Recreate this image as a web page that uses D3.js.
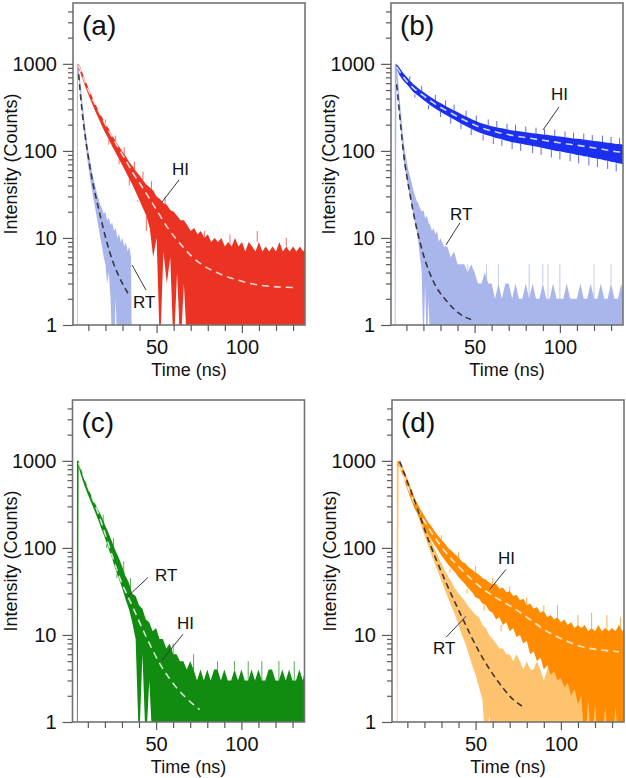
<!DOCTYPE html>
<html>
<head>
<meta charset="utf-8">
<script src="https://cdn.jsdelivr.net/npm/d3@7"></script>
<style>
  body { margin: 0; background: #fff; }
  svg { display: block; }
  text { font-family: "Liberation Sans", Arial, Helvetica, sans-serif; fill: #111; }
</style>
</head>
<body>
<svg id="chart" width="626" height="778"></svg>
<script>
// ---- data (time in ns, intensity in counts; 0 = no counts) ----

// (a) HI red
const aHiT = [4.2,5,6,8,10,12,14,16,18,20,22,24,26,28,30,32,34,36,38,40,42,44,46,48,50,52,54,56,58,60,62,64,66,68,70,72,74,76,78,80,82,84,86,88,90,92,94,96,98,100,102,104,106,108,110,112,114,116,118,120,122,124,126,128,130,132,134,136,137.5];
const aHiUp = [1000,960,840,660,530,430,350,290,245,205,178,150,130,112,98,86,74,66,58,52,46,41,38,35,30,28,25,24,21,20,18,16,16,14,12,13,11,12,10,11,9,10,9,10,8,9,8,10,8,9,7,9,8,7,9,7,8,7,8,7,9,7,8,7,8,7,8,7,8];
const aHiLo = [850,820,720,560,445,355,288,235,192,160,135,112,95,80,68,57,48,40,33,27,22,18,13,6,10,0,7,3,6,0,4,0,3,0,0];
const aHiSpikeT = [20,26,31,37,42,47,55,60,67,78,93,109,126];
const aHiSpikeV = [230,150,110,75,58,45,30,19,12,12,11,12,10];
const aHiDipT = [22,28,34,39,44];
const aHiDipV = [118,70,40,26,12];
// (a) RT light blue
const aRtT = [3.3,3.7,3.9,5,6,7,8,9,10,11,12,13,14,15,16,17,18,19,20,21,22,23,24,25,26,27,28,29,30,31,32,33,34,35,35.5];
const aRtUp = [1000,1000,1000,700,450,300,200,140,100,78,60,48,40,33,28,24,22,19,20,16,17,14,15,12,13,10,11,9,10,8,9,7,8,6,0];
const aRtLo = [0,0,800,520,330,210,135,92,65,48,36,28,22,17,13,10,8,6,5,3,4,2,0,0,2];
// (a) fits
const aFitHiT = [4.3,10,16.7,21,26.5,31,36.3,41,46,51,56,61,65.7,70,75.5,85.3,95,105,114.7,130];
const aFitHiV = [960,500,270,185,118,84,55,40,28,19.5,13.5,10,7.8,6.3,5.1,4.0,3.4,3.0,2.8,2.7];
const aFitRtT = [4.3,6,8.8,10.7,12.7,14.7,16.7,20.6,24,28,33.3];
const aFitRtV = [760,330,120,70,42,28,19,9.3,5.6,3.6,2.3];

// (b) HI blue
const bHiT = [4.2,6,8,10,12,14,16,18,20,22,24,26,28,30,32,34,36,38,40,42,44,46,48,50,52,54,56,58,60,62,64,66,68,70,72,74,76,78,80,82,84,86,88,90,92,94,96,98,100,102,104,106,108,110,112,114,116,118,120,122,124,126,128,130,132,134,136,137.5];
const bHiUp = [1000,900,790,715,645,585,545,505,475,445,420,395,372,354,337,320,305,292,279,266,254,243,233,224,215,208,202,197,192,188,185,182,178,175,172,170,168,166,164,162,160,158,156,154,153,151,149,147,146,144,143,141,139,138,137,135,133,132,130,129,127,126,124,123,121,120,119,118];
const bHiLo = [880,740,650,590,530,475,445,412,385,360,335,315,297,282,267,254,240,229,218,207,197,188,180,172,165,159,154,150,146,142,139,136,132,129,126,124,122,120,118,116,114,112,110,108,106,104,102,100,99,97,95,94,92,90,89,87,86,84,83,81,80,78,77,75,74,72,71,70];
const bHiSpikeT = [12,19,27,33,38,45,51,58,63,69,74,80,86,91,97,103,108,114,119,125,130,135];
const bHiSpikeV = [720,560,440,380,340,290,255,230,220,205,200,190,185,178,175,168,162,158,152,150,145,140];
const bHiDipT = [15,23,30,36,42,48,55,61,66,72,77,84,89,95,100,106,111,117,122,128,133];
const bHiDipV = [410,300,245,205,178,152,132,120,114,105,100,94,90,84,80,76,72,68,65,62,58];
// (b) RT light blue
const bRtT = [3.2,3.6,4.2,5,6,7,8,9,10,11,12,13,14,15,16,17,18,19,20,21,22,23,24,25,26,27,28,29,30,32,34,36,38,40,42,44,46,48,50,52,54,56,58,60,62,64,66,68,70,72,74,76,78,80,82,84,86,88,90,92,94,96,98,100,102,104,106,108,110,112,114,116,118,120,122,124,126,128,130,132,134,136,137.5];
const bRtUp = [1000,1000,1000,700,420,250,150,105,80,62,52,44,36,31,27,25,22,20,21,17,18,15,14,12,13,11,12,9,10,8,8,6,7,5,5,5,4,5,4,3,3,4,3,3,2,3,2,3,3,2,3,2,2,3,2,3,2,2,3,2,2,3,2,2,2,3,2,2,2,3,2,2,3,2,2,3,2,2,3,2,2,3,2];
const bRtLo = [0,0,700,450,260,160,95,65,50,38,31,24,19,15,12,9,6,4,0,3,0,2];
const bRtSpikeT = [33,41,46,57,64,82,90,93,100,120,130];
const bRtSpikeV = [7,5,5,5,5,5,5,5,5,5,5];
// (b) fits
const bFitHiT = [4.3,8,14,19,23.8,28.5,33.5,43.3,53,62.7,72.5,82,92,102,111.5,123,135,137.5];
const bFitHiV = [920,720,530,445,380,330,290,229,187,165,150,140,131,122,115,106,97,96];
const bFitRtT = [4.3,6,8.2,12.1,16,19.9,25.7,33.5,41.3,50.1];
const bFitRtV = [580,268,100,32,13,6.5,3.2,1.9,1.34,1.12];

// (c) green (RT and HI overlap)
const cT = [3.6,4,4.6,6,8,10,12,14,16,18,20,22,24,26,28,30,32,34,36,38,40,42,44,46,48,50,52,54,56,58,60,62,64,66,68,70,72,74,76,78,80,82,84,86,88,90,92,94,96,98,100,102,104,106,108,110,112,114,116,118,120,122,124,126,128,130,132,134,136,137.5];
const cUp = [1000,1000,1000,800,620,490,400,330,275,230,185,150,120,95,78,62,48,40,30,28,22,20,15,14,11,12,9,9,7,8,6,6,5,5,4,5,4,3,4,3,4,3,4,4,3,4,3,3,4,3,4,3,3,4,3,4,3,3,4,4,3,3,4,3,4,3,3,4,3,4];
const cLo = [0,0,850,680,520,410,330,265,210,165,130,100,78,58,45,35,26,20,14,9,0,6,0,3];
const cSpikeT = [19,25,31,35,60,72,86,96,104,112,122,131];
const cSpikeV = [240,130,70,45,8,6,5,5,5,5,5,5];
const cDipT = [21,27,33];
const cDipV = [110,50,20];
const cFitT = [4.5,10,16.7,22.5,28.4,36.3,44.1,52,59.8,67.6,75.5];
const cFitV = [950,500,230,104,47,21,9.6,4.75,2.8,1.89,1.39];

// (d) HI orange
const dHiT = [4.6,5.5,6,8,10,12,14,16,18,20,22,24,26,28,30,32,34,36,38,40,42,44,46,48,50,52,54,56,58,60,62,64,66,68,70,72,74,76,78,80,82,84,86,88,90,92,94,96,98,100,102,104,106,108,110,112,114,116,118,120,122,124,126,128,130,132,134,136,137.5];
const dHiUp = [1000,980,950,760,590,470,380,320,270,232,200,178,155,138,124,112,100,92,84,78,70,66,60,56,52,49,45,43,40,38,39,34,35,31,32,28,29,25,26,22,23,20,21,18,19,16,17,15,16,14,15,13,14,12,13,12,13,11,12,11,13,11,12,11,12,11,13,11,12];
const dHiLo = [900,850,800,620,470,370,290,245,200,170,145,124,108,94,82,72,64,58,52,46,42,38,34,31,27,26,23,22,19,18,15,16,13,14,11,12,9.5,10,8,8.5,6,6.5,5,5.5,4,4.5,3.5,3.8,3,3.2,2.5,2.8,2,2.4,1.6,2,0,1.8,0,1.6,0,0,1.5,0,0,1.5,0,0,0];
const dHiSpikeT = [30,40,50,60,70,80,90,98,110,118,127,135];
const dHiSpikeV = [140,90,62,45,36,27,22,22,17,18,17,16];
const dHiDipT = [35,45,55,65];
const dHiDipV = [52,30,19,11];
// (d) RT light orange
const dRtT = [3.8,4.2,4.9,6,8,10,12,14,16,18,20,22,24,26,28,30,32,34,36,38,40,42,44,46,48,50,52,54,56,58,60,62,64,66,68,70,72,74,76,78,80,82,84,86,88,90,92,94,96,98,100,102,104,106,108,110,112,114,116,118,120,122,124,126,128,130,132,134,136,137.5];
const dRtUp = [1000,1000,1000,980,790,630,500,395,310,245,192,152,120,98,80,66,55,47,40,34,30,27,24,21,19,17,16,13,12,10,9,8,7,7,6,6,5,6,5,4,5,4,4,5,4,3,4,5,4,3,4,4,5,3,4,4,5,3,4,4,5,3,4,4,5,3,4,4,5,4];
const dRtLo = [0,0,880,850,660,510,400,310,240,182,140,108,84,66,52,42,33,26,21,17,13,10,8,6,4.5,3.5,2.5,1.8,0,1.2];
const dFitHiT = [5.5,13.3,23.1,32.9,42.7,52.5,62.4,72.2,82,91.8,101.6,111.4,121.2,131,134];
const dFitHiV = [940,357,162,87,54,36,26.5,20.4,15,11,8.8,7.4,6.8,6.5,6.4];
const dFitRtT = [5.5,13.3,23.1,32.9,42.7,52.5,62.4,72.2,79];
const dFitRtV = [980,390,113,39,15,6.2,3.06,1.8,1.45];

// annotations: [text, t, counts (text baseline), leader t1, v1, leader t2, v2]
const aNotes = [["HI",59,53,63.1,46.3,53.2,25.9],["RT",36.2,1.57,35.6,4.89,43.8,2.52]];
const bNotes = [["HI",94.8,384,99.5,319,90.1,174],["RT",35.6,16.1,41.4,14.9,33.2,8.3]];
const cNotes = [["RT",49.4,41.2,45.3,45.8,33.5,27.8],["HI",62.3,11.6,65.8,10.2,53.5,5.13]];
const dNotes = [["HI",63.1,64.5,67.8,56.6,58.4,33.4],["RT",25,6.0,32.7,9.4,44.4,16.4]];

// axes
const timeDomain = [1, 137];
const countDomain = [1, 5000];
const yMajor = [1, 10, 100, 1000];
const yMinor = [2,3,4,5,6,7,8,9,20,30,40,50,60,70,80,90,200,300,400,500,600,700,800,900,2000,3000,4000];
const xMajor = [50, 100];
const xMinor = [10,20,30,40,60,70,80,90,110,120,130];

// ---- layout ----
const PW = 232, PH = 322;
const RED = "#ea3323", LBLUE = "#a8b6ec", BLUE = "#1a2ff0", GREEN = "#118c11",
      ORANGE = "#ff8c00", LORANGE = "#ffc26e";

const panels = [
  { key: "a", label: "(a)", left: 73, top: 3,
    bands: [
      { t: aRtT, up: aRtUp, lo: aRtLo, color: LBLUE },
      { t: aHiT, up: aHiUp, lo: aHiLo, color: RED, spikeT: aHiSpikeT, spikeV: aHiSpikeV, dipT: aHiDipT, dipV: aHiDipV }
    ],
    fits: [ { t: aFitHiT, v: aFitHiV, white: true }, { t: aFitRtT, v: aFitRtV, white: false } ],
    notes: aNotes },
  { key: "b", label: "(b)", left: 391, top: 3,
    bands: [
      { t: bRtT, up: bRtUp, lo: bRtLo, color: LBLUE, spikeT: bRtSpikeT, spikeV: bRtSpikeV },
      { t: bHiT, up: bHiUp, lo: bHiLo, color: BLUE, spikeT: bHiSpikeT, spikeV: bHiSpikeV, dipT: bHiDipT, dipV: bHiDipV }
    ],
    fits: [ { t: bFitHiT, v: bFitHiV, white: true }, { t: bFitRtT, v: bFitRtV, white: false } ],
    notes: bNotes },
  { key: "c", label: "(c)", left: 72.5, top: 400,
    bands: [
      { t: cT, up: cUp, lo: cLo, color: GREEN, spikeT: cSpikeT, spikeV: cSpikeV, dipT: cDipT, dipV: cDipV }
    ],
    fits: [ { t: cFitT, v: cFitV, white: true } ],
    notes: cNotes },
  { key: "d", label: "(d)", left: 392, top: 400,
    bands: [
      { t: dRtT, up: dRtUp, lo: dRtLo, color: LORANGE },
      { t: dHiT, up: dHiUp, lo: dHiLo, color: ORANGE, spikeT: dHiSpikeT, spikeV: dHiSpikeV, dipT: dHiDipT, dipV: dHiDipV }
    ],
    fits: [ { t: dFitHiT, v: dFitHiV, white: true }, { t: dFitRtT, v: dFitRtV, white: false } ],
    notes: dNotes }
];

const svg = d3.select("#chart");
const defs = svg.append("defs");

panels.forEach(p => {
  const x = d3.scaleLinear().domain(timeDomain).range([p.left, p.left + PW]);
  const y = d3.scaleLog().domain(countDomain).range([p.top + PH, p.top]);
  const yv = v => y(Math.max(v, 0.5));

  defs.append("clipPath").attr("id", "clip-" + p.key)
    .append("rect").attr("x", p.left).attr("y", p.top).attr("width", PW).attr("height", PH);

  const plot = svg.append("g").attr("clip-path", `url(#clip-${p.key})`);

  p.bands.forEach(b => {
    const rows = b.t.map((t, i) => ({ t: t, up: b.up[i], lo: b.lo[i] ?? 0 }));
    const area = d3.area()
      .defined(d => d.up != null)
      .x(d => x(d.t))
      .y0(d => yv(d.lo))
      .y1(d => yv(d.up));
    plot.append("path").attr("d", area(rows)).attr("fill", b.color);

    // noise spikes above the upper edge and dips below the lower edge
    const near = t => Math.min(d3.bisectLeft(b.t, t), b.t.length - 1);
    const marks = [];
    (b.spikeT || []).forEach((t, i) => marks.push({ t: t, base: b.up[near(t)], v: b.spikeV[i] }));
    (b.dipT || []).forEach((t, i) => marks.push({ t: t, base: rows[near(t)].lo, v: b.dipV[i] }));
    plot.selectAll(null).data(marks).join("line")
      .attr("x1", d => x(d.t)).attr("x2", d => x(d.t))
      .attr("y1", d => yv(d.base)).attr("y2", d => yv(d.v))
      .attr("stroke", b.color).attr("stroke-width", 1).attr("opacity", 0.7);
  });

  p.fits.forEach(f => {
    const line = d3.line().curve(d3.curveMonotoneX).x(d => x(d[0])).y(d => yv(d[1]));
    plot.append("path")
      .attr("d", line(f.t.map((t, i) => [t, f.v[i]])))
      .attr("fill", "none")
      .attr("stroke", f.white ? "#fff" : "#2a2a2a")
      .attr("stroke-opacity", f.white ? 0.8 : 0.9)
      .attr("stroke-width", 1.6)
      .attr("stroke-dasharray", f.white ? "7,5" : "6,4");
  });

  // frame
  svg.append("rect")
    .attr("x", p.left).attr("y", p.top).attr("width", PW).attr("height", PH)
    .attr("fill", "none").attr("stroke", "#737373").attr("stroke-width", 1.6);

  // y axis
  const yMaj = svg.append("g").attr("transform", `translate(${p.left},0)`)
    .call(d3.axisLeft(y).tickValues(yMajor).tickSize(10).tickPadding(6).tickFormat(d3.format("d")));
  const yMin = svg.append("g").attr("transform", `translate(${p.left},0)`)
    .call(d3.axisLeft(y).tickValues(yMinor).tickSize(5).tickFormat(""));
  // x axis
  const xMaj = svg.append("g").attr("transform", `translate(0,${p.top + PH})`)
    .call(d3.axisBottom(x).tickValues(xMajor).tickSize(8).tickPadding(7));
  const xMin = svg.append("g").attr("transform", `translate(0,${p.top + PH})`)
    .call(d3.axisBottom(x).tickValues(xMinor).tickSize(6).tickFormat(""));

  [yMaj, yMin, xMaj, xMin].forEach(a => {
    a.select(".domain").remove();
    a.selectAll(".tick line").attr("stroke", "#5a5a5a").attr("stroke-width", 1.2);
    a.selectAll(".tick text").attr("font-size", 20).attr("fill", "#111")
      .attr("font-family", '"Liberation Sans", Arial, sans-serif');
  });

  // titles
  svg.append("text")
    .attr("transform", `translate(${p.left - 56},${p.top + PH / 2}) rotate(-90)`)
    .attr("text-anchor", "middle").attr("font-size", 18)
    .text("Intensity (Counts)");
  svg.append("text")
    .attr("x", p.left + PW / 2).attr("y", p.top + PH + 51)
    .attr("text-anchor", "middle").attr("font-size", 18)
    .text("Time (ns)");
  svg.append("text")
    .attr("x", p.left + 9).attr("y", p.top + 32)
    .attr("font-size", 28)
    .text(p.label);

  // annotations
  p.notes.forEach(n => {
    svg.append("line")
      .attr("x1", x(n[3])).attr("y1", y(n[4]))
      .attr("x2", x(n[5])).attr("y2", y(n[6]))
      .attr("stroke", "#3a3a3a").attr("stroke-width", 1);
    svg.append("text")
      .attr("x", x(n[1])).attr("y", y(n[2]))
      .attr("font-size", 17)
      .text(n[0]);
  });
});
</script>
</body>
</html>
